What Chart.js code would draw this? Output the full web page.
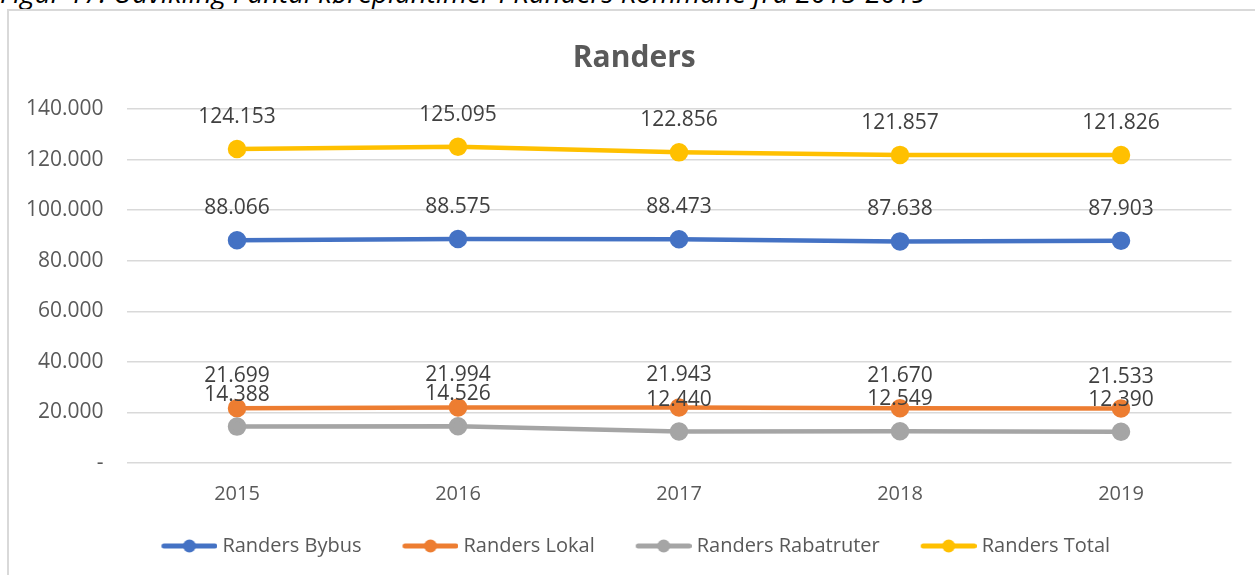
<!DOCTYPE html>
<html>
<head>
<meta charset="utf-8">
<script src="https://cdn.jsdelivr.net/npm/chart.js@4.4.1/dist/chart.umd.min.js"></script>
<style>
  html, body { margin: 0; padding: 0; background: #fff; width: 1255px; height: 575px; overflow: hidden; position: relative; }
  #caption { position: absolute; left: 0; top: -21px; font-family: "Open Sans", sans-serif; font-style: italic; font-size: 27px; line-height: 27px; color: #000; white-space: nowrap; }
  #frame { position: absolute; left: 7px; top: 9px; width: 1400px; height: 700px; border: 2px solid #d9d9d9; box-sizing: border-box; }
  #c { position: absolute; left: 9px; top: 11px; }
</style>
</head>
<body>
<div id="caption">Figur 17: Udvikling i antal køreplantimer i Randers Kommune fra 2015-2019</div>
<div id="frame"></div>
<canvas id="c" width="1246" height="555"></canvas>
<script>
const categories = ['2015', '2016', '2017', '2018', '2019'];
const seriesNames = ['Randers Bybus', 'Randers Lokal', 'Randers Rabatruter', 'Randers Total'];
const bybus = [88066, 88575, 88473, 87638, 87903];
const lokal = [21699, 21994, 21943, 21670, 21533];
const rabatruter = [14388, 14526, 12440, 12549, 12390];
const total = [124153, 125095, 122856, 121857, 121826];
const yTicks = [0, 20000, 40000, 60000, 80000, 100000, 120000, 140000];
const colors = ['#4472C4', '#ED7D31', '#A5A5A5', '#FFC000'];

// fit caption width to the reference (ends near x=927)
(function () {
  const cap = document.getElementById('caption');
  const w = cap.getBoundingClientRect().width;
  if (w > 0) {
    const fs = 27 * 927 / w;
    cap.style.fontSize = fs + 'px';
    cap.style.lineHeight = fs + 'px';
    cap.style.top = (3.5 - (fs * 1.069 + (fs - fs * 1.362) / 2)) + 'px';
  }
})();

function fmt(n) {
  if (n === 0) return '-';
  return String(n).replace(/\B(?=(\d{3})+(?!\d))/g, '.');
}

// legend marker: transparent left part, visible line from x=36 to x=92
function legendImg(color) {
  const c = document.createElement('canvas');
  c.width = 92; c.height = 16;
  const g = c.getContext('2d');
  g.strokeStyle = color; g.lineWidth = 5; g.lineCap = 'round';
  g.beginPath(); g.moveTo(38.5, 8); g.lineTo(89.5, 8); g.stroke();
  g.fillStyle = color; g.beginPath(); g.arc(64, 8, 6.5, 0, Math.PI * 2); g.fill();
  return c;
}
const legendImgs = colors.map(legendImg);

const dataLabels = {
  id: 'dataLabels',
  afterDatasetsDraw(chart) {
    const ctx = chart.ctx;
    ctx.save();
    ctx.font = '21px "Open Sans"';
    ctx.fillStyle = '#404040';
    ctx.textAlign = 'center';
    ctx.textBaseline = 'middle';
    chart.data.datasets.forEach((ds, i) => {
      const meta = chart.getDatasetMeta(i);
      meta.data.forEach((pt, j) => {
        ctx.fillText(fmt(ds.data[j]), pt.x, pt.y - 32);
      });
    });
    ctx.restore();
  }
};

// centre the title on the whole chart frame rather than the padded box
const titleShift = {
  id: 'titleShift',
  afterLayout(chart) {
    if (chart.titleBlock) {
      chart.titleBlock.left += 14;
      chart.titleBlock.right += 14;
    }
  }
};

const allSeries = [bybus, lokal, rabatruter, total];
const datasets = allSeries.map((d, i) => ({
  label: seriesNames[i],
  data: d,
  borderColor: colors[i],
  backgroundColor: colors[i],
  pointBackgroundColor: colors[i],
  pointBorderColor: colors[i],
  borderWidth: 4.5,
  pointRadius: 7,
  pointHoverRadius: 7,
  tension: 0,
  order: 3 - i
}));

new Chart(document.getElementById('c'), {
  type: 'line',
  data: { labels: categories, datasets },
  plugins: [dataLabels, titleShift],
  options: {
    responsive: false,
    animation: false,
    layout: { padding: { left: 0, right: 23.5, top: 0, bottom: 0 } },
    plugins: {
      tooltip: { enabled: false },
      title: {
        display: true,
        text: 'Randers',
        color: '#595959',
        font: { family: 'Open Sans', size: 30, weight: 'bold' },
        padding: { top: 29, bottom: 33 }
      },
      legend: {
        position: 'bottom',
        labels: {
          usePointStyle: true,
          pointStyleWidth: 82,
          boxHeight: 20,
          padding: 10,
          color: '#595959',
          font: { family: 'Open Sans', size: 20 },
          generateLabels(chart) {
            const items = Chart.defaults.plugins.legend.labels.generateLabels(chart);
            items.sort((a, b) => a.datasetIndex - b.datasetIndex);
            items.forEach(it => { it.pointStyle = legendImgs[it.datasetIndex]; });
            return items;
          }
        }
      }
    },
    scales: {
      x: {
        offset: true,
        grid: { display: false, drawTicks: false },
        border: { display: false },
        ticks: { color: '#595959', font: { family: 'Open Sans', size: 20 }, padding: 19 },
        afterFit(scale) { scale.height = 63; }
      },
      y: {
        min: 0,
        max: 140000,
        afterBuildTicks(scale) { scale.ticks = yTicks.map(v => ({ value: v })); },
        grid: { color: '#d9d9d9', lineWidth: 1.5, drawTicks: false },
        border: { display: false },
        ticks: {
          color: '#595959',
          font: { family: 'Open Sans', size: 21 },
          padding: 23,
          callback: v => fmt(v)
        },
        afterFit(scale) { scale.width = 117.5; }
      }
    }
  }
});
</script>
</body>
</html>
